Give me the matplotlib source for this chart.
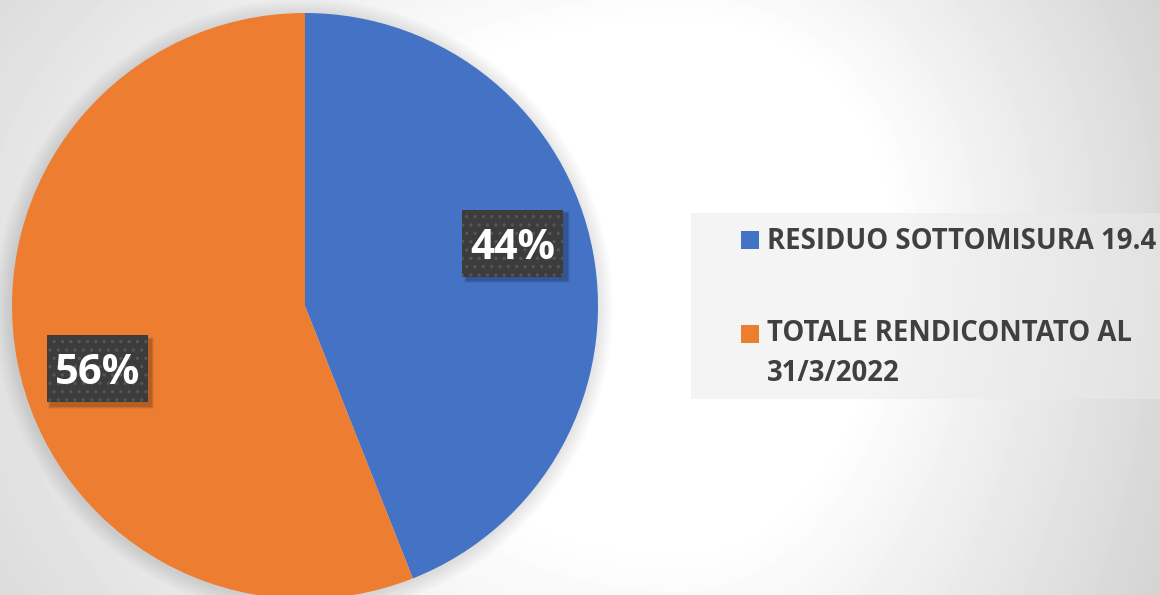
import numpy as np
import matplotlib
matplotlib.use('Agg')
import matplotlib.pyplot as plt
import matplotlib.transforms as mtransforms
from matplotlib.patches import Rectangle, Circle

# ---- data ----
labels = ['RESIDUO SOTTOMISURA 19.4', 'TOTALE RENDICONTATO AL\n31/3/2022']
values = [44, 56]
colors = ['#4472C4', '#ED7D31']

W, H, DPI = 1160, 595, 100
plt.rcParams['hatch.color'] = '#555555'
plt.rcParams['hatch.linewidth'] = 1.2
fig = plt.figure(figsize=(W / DPI, H / DPI), dpi=DPI)

# ---- background gradient ----
bg = fig.add_axes([0, 0, 1, 1], zorder=-10)
yy, xx = np.mgrid[0:H, 0:W].astype(float)
dx = xx - 680
dx = np.where(dx < 0, dx * 0.6, dx)
dy = yy - 230
dy = np.where(dy > 0, dy * 0.65, dy)
r = np.hypot(dx, dy)
val = 1 - 0.00052 * np.clip(r - 205, 0, None)
bg.imshow(val, cmap='gray', vmin=0, vmax=1, aspect='auto', interpolation='bilinear')
bg.set_axis_off()

# ---- pie ----
cxp, cyp, R = 305, 306, 293
ax = fig.add_axes([(cxp - R) / W, (H - cyp - R) / H, 2 * R / W, 2 * R / H])
ax.patch.set_alpha(0)
wedges, _ = ax.pie(values, colors=colors, startangle=90, counterclock=False,
                   radius=1, wedgeprops=dict(linewidth=0))
ax.set_xlim(-1, 1)
ax.set_ylim(-1, 1)

# soft shadow around pie
for k in range(14):
    c = Circle((-0.004, -0.006), 1 + 0.004 * (k + 1), facecolor='black',
               edgecolor='none', alpha=0.007, zorder=0, clip_on=False)
    ax.add_patch(c)
for w in wedges:
    w.set_zorder(2)

# ---- percentage labels ----
for w, v in zip(wedges, values):
    th = np.deg2rad((w.theta1 + w.theta2) / 2 + 6)
    x, y = 0.74 * np.cos(th), 0.74 * np.sin(th)
    px, py = ax.transData.transform((x, y))
    for s, a in [(9, 0.06), (7, 0.08), (5, 0.12)]:
        sh = Rectangle((-50.5 + 4 - s / 2 + 2, -33.5 - 4 - s / 2 + 2), 101 + s - 4, 67 + s - 4,
                       transform=mtransforms.Affine2D().translate(px, py),
                       facecolor='black', edgecolor='none', alpha=a, zorder=3, clip_on=False)
        ax.add_artist(sh)
    box = Rectangle((-50.5, -33.5), 101, 67,
                    transform=mtransforms.Affine2D().translate(px, py),
                    facecolor='#3c3c3c', hatch='..', zorder=4, clip_on=False)
    ax.add_artist(box)
    ax.text(x, y, f'{v}%', ha='center', va='baseline', color='white',
            fontsize=30, fontweight='bold', family='Open Sans', zorder=5,
            transform=mtransforms.offset_copy(ax.transData, fig=fig, x=0, y=-15.5, units='dots'))

# ---- legend ----
fig.add_artist(Rectangle((691 / W, 1 - 399 / H), (1170 - 691) / W, (399 - 213) / H,
                         transform=fig.transFigure, facecolor=(0.92, 0.92, 0.92),
                         edgecolor='none', alpha=0.52, zorder=1))
mark_y = [240, 334]
line_gap = 38
for lab, col, my in zip(labels, colors, mark_y):
    fig.add_artist(Rectangle((741 / W, 1 - (my + 9) / H), 18 / W, 18 / H,
                             transform=fig.transFigure, facecolor=col,
                             edgecolor='none', zorder=2))
    nlines = lab.count('\n') + 1
    base = my + 9 + (nlines - 1) * line_gap
    fig.text(767 / W, 1 - base / H, lab, ha='left', va='baseline',
             fontsize=19.8, fontweight='bold', family='Open Sans', color='#404040',
             linespacing=1.52, zorder=3)

fig.savefig('out.png', dpi=DPI)
